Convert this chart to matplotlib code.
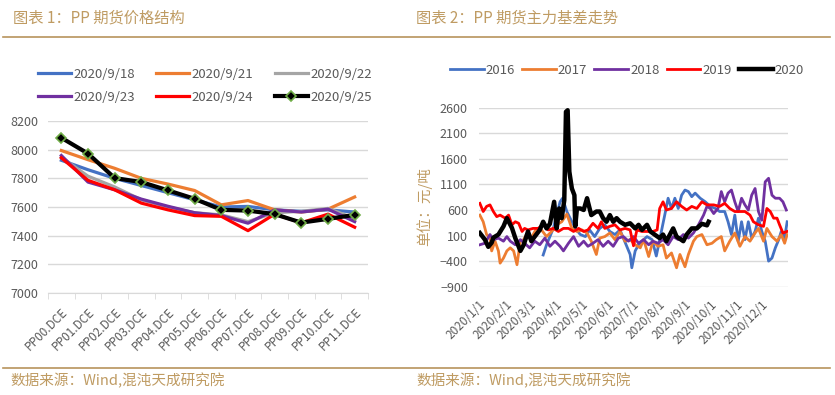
import matplotlib
matplotlib.use('Agg')
import matplotlib.pyplot as plt
from matplotlib.lines import Line2D
import numpy as np
import pandas as pd

plt.rcParams['font.family'] = ['Noto Sans CJK SC', 'DejaVu Sans']

# ---- chart 1: PP futures price structure ----
contracts = ['PP00.DCE', 'PP01.DCE', 'PP02.DCE', 'PP03.DCE', 'PP04.DCE', 'PP05.DCE',
             'PP06.DCE', 'PP07.DCE', 'PP08.DCE', 'PP09.DCE', 'PP10.DCE', 'PP11.DCE']
p0918 = [7926, 7860, 7800, 7750, 7700, 7650, 7600, 7604, 7580, 7570, 7580, 7565]
p0921 = [7994, 7930, 7870, 7800, 7760, 7715, 7615, 7645, 7580, 7565, 7585, 7670]
p0922 = [7947, 7815, 7740, 7650, 7600, 7560, 7545, 7498, 7560, 7570, 7590, 7520]
p0923 = [7959, 7774, 7720, 7655, 7605, 7560, 7540, 7487, 7580, 7565, 7585, 7498]
p0924 = [7943, 7786, 7720, 7627, 7580, 7540, 7535, 7435, 7550, 7490, 7550, 7459]
p0925 = [8083, 7973, 7802, 7774, 7716, 7657, 7580, 7575, 7550, 7491, 7517, 7545]

# ---- chart 2: PP main contract basis, by year (day offset from Jan 1, value) ----
d2016 = [76, 80, 84, 88, 92, 96, 99, 104, 110, 114, 120, 126, 131, 137, 143, 149, 155, 161,
         167, 171, 175, 179, 181, 185, 189, 193, 199, 205, 210, 214, 220, 224, 228, 232, 236,
         240, 244, 248, 252, 256, 262, 268, 274, 280, 285, 291, 295, 299, 303, 307, 311, 315,
         319, 323, 327, 331, 335, 339, 343, 347, 351, 355, 358, 362, 365]
v2016 = [-280, -80, 80, 240, 500, 760, 830, 570, 370, 240, 120, 80, 210, 80, 240, 310, 180, 120,
         210, 50, -110, -270, -530, -200, -80, -10, 80, 20, -300, 20, 500, 830, 630, 830, 630,
         890, 990, 960, 860, 930, 830, 760, 670, 630, 570, 570, 370, 120, 500, -10, 370, 20,
         370, 50, 180, 440, 180, -10, -400, -340, -140, 20, 180, 50, 370]

d2017 = [1, 5, 9, 13, 15, 19, 23, 25, 29, 33, 37, 41, 45, 49, 53, 56, 62, 68, 74, 80, 86, 92,
         98, 104, 110, 116, 122, 128, 133, 139, 143, 149, 155, 161, 167, 173, 179, 185, 191,
         195, 201, 206, 212, 218, 222, 228, 234, 238, 244, 248, 254, 258, 264, 270, 276, 281,
         287, 291, 297, 303, 309, 315, 321, 327, 331, 337, 341, 347, 353, 358, 362, 365]
v2017 = [500, 370, 120, 50, -200, -10, -200, -440, -340, -200, -140, -200, -470, -10, 20, 120,
         50, 240, 210, 80, 180, 310, 370, 520, 240, 180, 210, 150, -10, -270, 50, 80, 150, 20,
         180, -10, 20, -80, -140, 20, -310, -10, -110, -80, -340, -240, -530, -270, -510, -270,
         -10, 80, 120, -80, -50, 20, 80, -200, -10, 150, -110, 80, -10, 150, 240, -10, 240, 80,
         -10, 120, -50, 120]

d2018 = [1, 7, 13, 17, 23, 29, 33, 37, 43, 49, 54, 60, 66, 72, 78, 84, 90, 96, 100, 106, 112,
         118, 124, 129, 135, 141, 147, 153, 159, 165, 171, 177, 183, 189, 195, 201, 206, 212,
         218, 224, 230, 236, 242, 248, 254, 260, 266, 270, 274, 278, 283, 287, 291, 295, 299,
         303, 307, 311, 315, 319, 323, 327, 331, 335, 339, 343, 347, 351, 356, 360, 364]
v2018 = [-80, -50, 120, 20, 50, -10, 80, -10, -80, 20, -50, -140, -10, -80, 50, -110, -10, -110,
         -200, -50, 80, -110, -10, -110, -50, 20, -110, -10, -110, 50, 80, -10, 80, -50, 20, -80,
         -10, -50, 20, -80, 80, 20, 120, 50, 150, 310, 500, 670, 630, 530, 630, 960, 760, 930,
         990, 760, 570, 830, 700, 600, 890, 1020, 570, 400, 1150, 1220, 890, 830, 830, 760, 600]

d2019 = [1, 5, 9, 13, 17, 21, 25, 31, 35, 39, 43, 47, 51, 54, 58, 64, 70, 76, 82, 88, 94, 100,
         106, 112, 118, 124, 129, 135, 141, 145, 149, 155, 161, 167, 173, 179, 183, 187, 193,
         199, 206, 211, 214, 218, 222, 228, 234, 240, 246, 252, 258, 264, 270, 278, 285, 291,
         297, 303, 309, 315, 321, 325, 331, 337, 341, 345, 349, 353, 356, 360, 365]
v2019 = [730, 570, 670, 700, 570, 470, 500, 440, 500, 310, 370, 340, 180, 240, 210, 240, 240,
         310, 210, 240, 180, 240, 240, 180, 240, 180, 210, 340, 240, 370, 240, 280, 310, 210,
         240, 210, -100, 210, 180, 180, 180, 210, 630, 760, 600, 630, 760, 670, 600, 670, 630,
         760, 700, 700, 670, 730, 630, 570, 570, 570, 500, 370, 310, 280, 630, 570, 440, 440,
         310, 150, 180]

d2020 = [1, 7, 11, 15, 17, 23, 29, 33, 39, 43, 49, 53, 58, 62, 66, 72, 76, 80, 84, 89, 92, 95,
         98, 101, 103, 105, 107, 110, 113, 114, 116, 120, 124, 128, 129, 133, 139, 143, 147,
         151, 155, 159, 163, 167, 173, 179, 185, 189, 193, 199, 203, 208, 214, 218, 222, 230,
         234, 242, 246, 252, 258, 264, 270, 272]
v2020 = [150, 20, -120, -40, 60, 120, 280, 440, 250, 50, -200, -80, 180, -10, 80, 210, 370, 240,
         330, 760, 240, 630, 440, 790, 2520, 2550, 1350, 1020, 890, 280, 630, 630, 600, 830, 760,
         500, 570, 570, 440, 370, 500, 370, 440, 370, 310, 340, 240, 310, 210, 310, 180, 120, 50,
         120, -10, 240, 80, -10, 120, 240, 240, 330, 300, 370]

years = ['2016', '2017', '2018', '2019', '2020']
year_days = [d2016, d2017, d2018, d2019, d2020]
year_vals = [v2016, v2017, v2018, v2019, v2020]
year_colors = ['#4472C4', '#ED7D31', '#7030A0', '#FF0000', '#000000']
year_widths = [2.0, 2.0, 2.0, 2.0, 3.2]

gold = '#BF9B62'
tick_col = '#595959'
grid_col = '#D9D9D9'

W, H = 835, 395
fig = plt.figure(figsize=(W / 100, H / 100), dpi=100)


def box(x0, y0, x1, y1):
    """ pixel box (top-left origin) -> figure fraction rect """
    return [x0 / W, 1 - y1 / H, (x1 - x0) / W, (y1 - y0) / H]


# titles, rules and sources
fig.text(13 / W, 1 - 18 / H, '图表 1：PP 期货价格结构', color=gold, fontsize=11, va='center')
fig.text(416 / W, 1 - 18 / H, '图表 2：PP 期货主力基差走势', color=gold, fontsize=11, va='center')
fig.text(10 / W, 1 - 381 / H, '数据来源：Wind,混沌天成研究院', color=gold, fontsize=10.5, va='center')
fig.text(416 / W, 1 - 381 / H, '数据来源：Wind,混沌天成研究院', color=gold, fontsize=10.5, va='center')
fig.add_artist(Line2D([3 / W, 830 / W], [1 - 37 / H] * 2, color='#B8945C', lw=1.2))
fig.add_artist(Line2D([3 / W, 830 / W], [1 - 368 / H] * 2, color='#B8945C', lw=1.2))

# ---- left chart ----
ax1 = fig.add_axes(box(48, 121, 368, 293))
x = np.arange(len(contracts))
series = [('2020/9/18', p0918, '#4472C4'), ('2020/9/21', p0921, '#ED7D31'),
          ('2020/9/22', p0922, '#A5A5A5'), ('2020/9/23', p0923, '#7030A0'),
          ('2020/9/24', p0924, '#FF0000')]
for lab, vals, col in series:
    ax1.plot(x, vals, color=col, lw=2.3, label=lab)
ax1.plot(x, p0925, color='black', lw=3.0, marker='D', markersize=5,
         markerfacecolor='black', markeredgecolor='#70AD47', markeredgewidth=1.2,
         label='2020/9/25')

ax1.set_xlim(-0.5, len(contracts) - 0.5)
ax1.set_ylim(7000, 8200)
ax1.set_yticks(np.arange(7000, 8201, 200))
ax1.set_xticks(x)
ax1.set_xticklabels(contracts, rotation=45, ha='right', rotation_mode='anchor')
ax1.set_xticks(np.arange(-0.5, len(contracts)), minor=True)
ax1.tick_params(axis='x', which='major', length=0, pad=9, labelsize=8.5, labelcolor=tick_col)
ax1.tick_params(axis='x', which='minor', length=4, color=grid_col, direction='out')
ax1.tick_params(axis='y', length=0, pad=7, labelsize=9, labelcolor=tick_col)
ax1.grid(axis='y', color=grid_col, lw=1)
ax1.set_axisbelow(True)
for s in ['top', 'right', 'left']:
    ax1.spines[s].set_visible(False)
ax1.spines['bottom'].set_color(grid_col)

# legend filled row by row (matplotlib fills columns first)
h1, l1 = ax1.get_legend_handles_labels()
order = [0, 3, 1, 4, 2, 5]
fig.legend([h1[i] for i in order], [l1[i] for i in order], ncol=3, loc='center left',
           bbox_to_anchor=(26 / W, 1 - 86 / H), frameon=False, fontsize=9.5,
           handlelength=2.5, handletextpad=0.2, columnspacing=1.6, labelspacing=0.75,
           labelcolor=tick_col)

# ---- right chart ----
ax2 = fig.add_axes(box(479, 107.7, 788, 286.7))
base = pd.Timestamp('2020-01-01')
for yr, dd, vv, col, lw in zip(years, year_days, year_vals, year_colors, year_widths):
    dates = base + pd.to_timedelta(dd, unit='D')
    ax2.plot(dates, vv, color=col, lw=lw, label=yr)

ax2.set_xlim(base, pd.Timestamp('2021-01-01'))
ax2.set_ylim(-900, 2600)
ax2.set_yticks(np.arange(-900, 2601, 500))
months = pd.date_range('2020-01-01', periods=12, freq='MS')
ax2.set_xticks(months)
ax2.set_xticklabels(['2020/{}/1'.format(m.month) for m in months],
                    rotation=45, ha='right', rotation_mode='anchor')
ax2.tick_params(axis='x', length=0, pad=8, labelsize=8.5, labelcolor=tick_col)
ax2.tick_params(axis='y', length=0, pad=8, labelsize=9, labelcolor=tick_col)
ax2.grid(axis='y', color=grid_col, lw=1)
ax2.set_axisbelow(True)
for s in ax2.spines.values():
    s.set_visible(False)
ax2.set_ylabel('单位：元/吨', color=gold, fontsize=10.5)
ax2.yaxis.set_label_coords(-0.15, 0.45)

fig.legend(*ax2.get_legend_handles_labels(), ncol=5, loc='center left',
           bbox_to_anchor=(438 / W, 1 - 70 / H), frameon=False, fontsize=9.5,
           handlelength=2.55, handletextpad=0.15, columnspacing=0.55,
           labelcolor=tick_col)

fig.savefig('out.png', dpi=100)
